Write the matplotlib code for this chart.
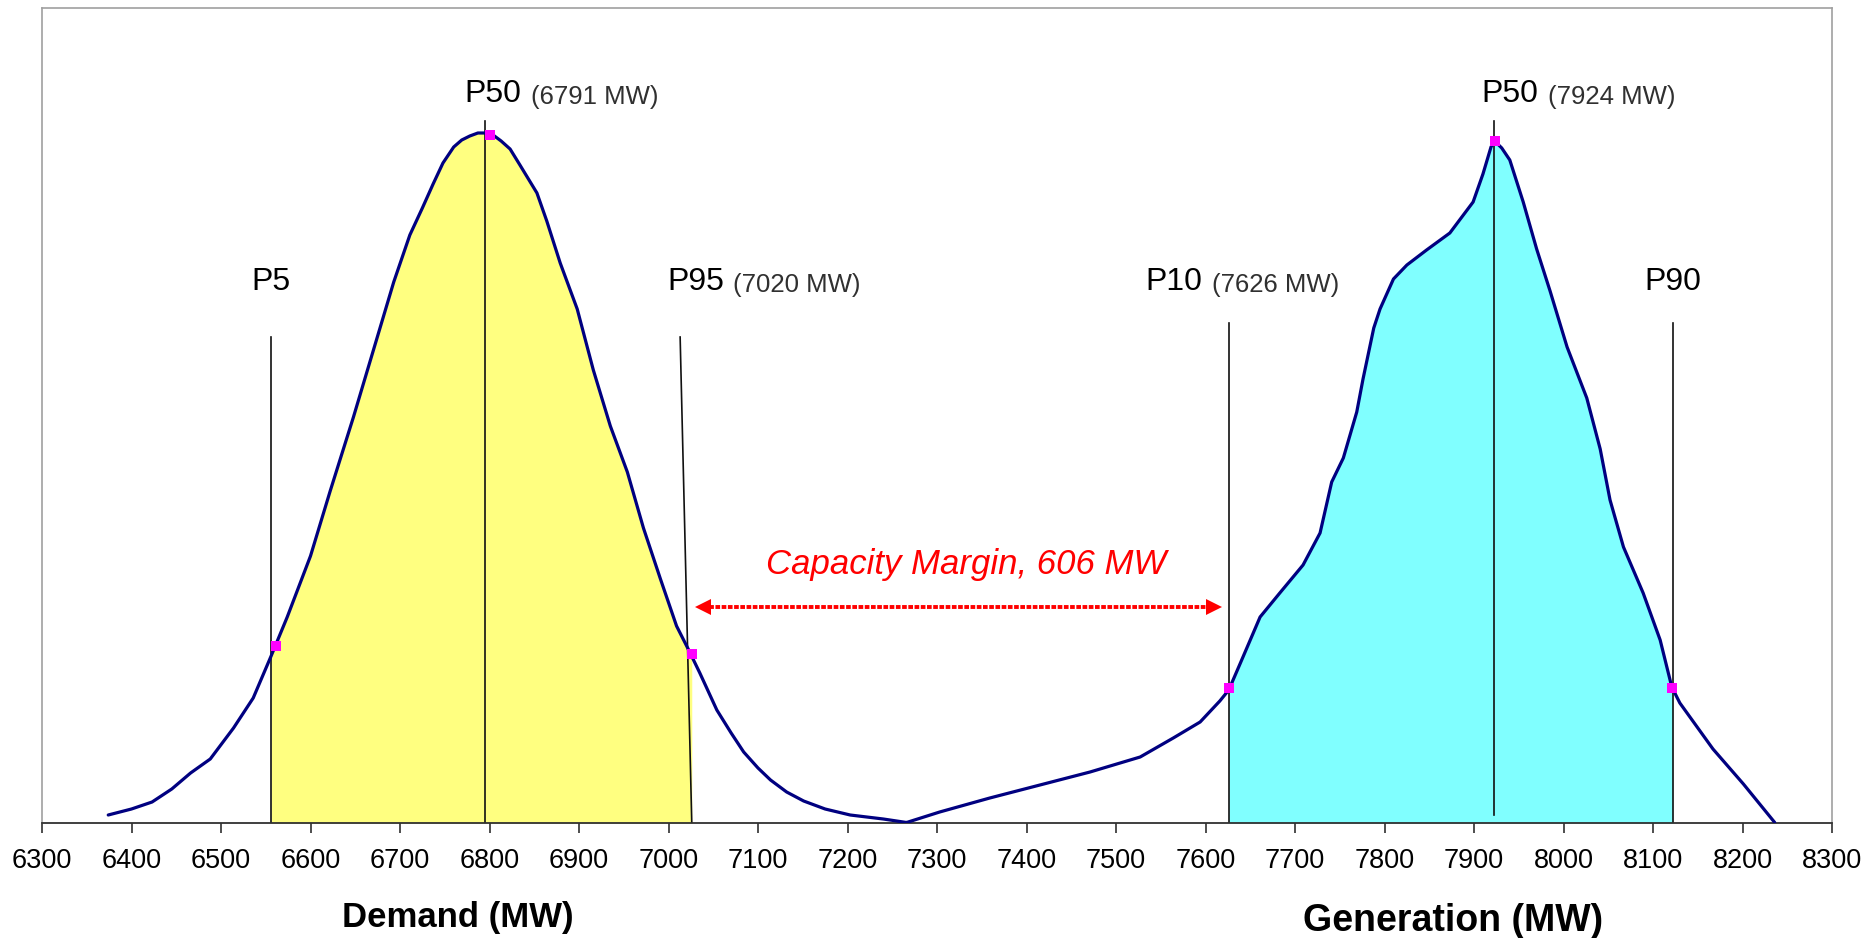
import numpy as np
import matplotlib
matplotlib.use("Agg")
import matplotlib.pyplot as plt

plt.rcParams["font.family"] = ["Liberation Sans", "DejaVu Sans"]

# Curva de demanda (MW, altura relativa de la densidad)
demanda_mw = [6374, 6400, 6423, 6445, 6466, 6488, 6514, 6536, 6556, 6574, 6600, 6622,
              6648, 6670, 6693, 6711, 6725, 6737, 6748, 6760, 6769, 6778, 6787, 6795,
              6804, 6813, 6823, 6834, 6853, 6864, 6879, 6898, 6916, 6935, 6954, 6972,
              6991, 7009, 7022, 7035, 7054, 7070, 7084, 7100, 7114, 7132, 7151, 7175,
              7203, 7240, 7266]
demanda_h = [8, 14, 21, 34, 50, 64, 95, 125, 167, 206, 267, 332,
             406, 472, 541, 588, 615, 639, 660, 676, 683, 687, 690, 690,
             688, 682, 674, 658, 630, 602, 560, 514, 453, 397, 351, 295,
             244, 197, 174, 150, 113, 90, 71, 55, 43, 31, 22, 14,
             8, 4, 0.5]

# Curva de generacion
generacion_mw = [7266, 7303, 7359, 7415, 7471, 7527, 7564, 7594, 7616, 7626, 7639, 7661,
                 7683, 7709, 7728, 7741, 7754, 7769, 7776, 7788, 7795, 7810, 7825, 7847,
                 7873, 7899, 7910, 7919, 7923, 7931, 7940, 7955, 7970, 7985, 8004, 8026,
                 8041, 8052, 8067, 8089, 8108, 8121, 8130, 8167, 8201, 8236]
generacion_h = [0.5, 11, 25, 38, 51, 66, 85, 101, 122, 133, 160, 206,
                230, 258, 290, 341, 365, 411, 444, 495, 514, 544, 558, 573,
                590, 621, 649, 676, 682, 675, 663, 621, 574, 532, 476, 425,
                374, 323, 276, 230, 183, 136, 120, 74, 39, 0.5]

# Percentiles
etiquetas = ["P5", "P50", "P95", "P10", "P50", "P90"]
valores = [None, "6791 MW", "7020 MW", "7626 MW", "7924 MW", None]
lineas_mw = [6556, 6795, 7026, 7626, 7922, 8122]
marcas_mw = [6562, 6800, 7026, 7626, 7923, 8121]
marcas_h = [177, 688, 169, 135, 682, 135]

margen_mw = 606
flecha_mw = [7039, 7609]

fig = plt.figure(figsize=(18.7, 9.38), dpi=100)
ax = fig.add_axes([42 / 1870, 1 - 823 / 938, 1790 / 1870, 815 / 938])

# Relleno entre percentiles
def rellenar(mw, h, lo, hi, color):
    mw = np.asarray(mw, dtype=float)
    h = np.asarray(h, dtype=float)
    xs = np.concatenate([[lo], mw[(mw > lo) & (mw < hi)], [hi]])
    ys = np.interp(xs, mw, h)
    ax.fill_between(xs, ys, 0, color=color, linewidth=0, zorder=1)

rellenar(demanda_mw, demanda_h, lineas_mw[0], lineas_mw[2], "#FFFF80")
rellenar(generacion_mw, generacion_h, lineas_mw[3], lineas_mw[5], "#80FFFF")

# Lineas verticales de percentiles
tops = [486, 702, 486, 500, 702, 500]
bases = [0, 0, 0, 0, 8, 0]
desvio_top = [0, 0, -13, 0, 0, 0]
for x, t, b, d in zip(lineas_mw, tops, bases, desvio_top):
    ax.plot([x + d, x], [t, b], color="#111111", lw=1.2, zorder=2)

# Curvas
ax.plot(demanda_mw, demanda_h, color="#000080", lw=2.3, zorder=3,
        solid_capstyle="round", solid_joinstyle="round")
ax.plot(generacion_mw, generacion_h, color="#000080", lw=2.3, zorder=3,
        solid_capstyle="round", solid_joinstyle="round")
ax.plot(marcas_mw, marcas_h, "s", color="#FF00FF", markersize=7.5, markeredgewidth=0, zorder=4)

# Etiquetas de percentiles
pos_x = [lineas_mw[0], 6771.7, 6998.2, 7532.3, 7907.8, lineas_mw[5]]
pos_y = [533, 721, 533, 533, 721, 533]
for et, val, x, y in zip(etiquetas, valores, pos_x, pos_y):
    if val is None:
        ax.text(x, y, et, fontsize=23, ha="center", va="baseline", color="black")
    else:
        t = ax.text(x, y, et, fontsize=23, ha="left", va="baseline", color="black")
        ax.annotate(f"({val})", xy=(1, 0), xycoords=t, xytext=(7, 0),
                    textcoords="offset points", fontsize=18.5, ha="left", va="bottom",
                    color="#303030")

# Margen de capacidad
ax.plot(flecha_mw, [216, 216], color="red", lw=2.8, linestyle=(0, (1.2, 0.4)), zorder=3)
ax.plot([flecha_mw[0]], [216], marker="<", color="red", markersize=11, markeredgewidth=0)
ax.plot([flecha_mw[1]], [216], marker=">", color="red", markersize=11, markeredgewidth=0)
ax.text(sum(flecha_mw) / 2 + 9, 249, f"Capacity Margin, {margen_mw} MW", color="red",
        fontsize=25, style="italic", ha="center", va="baseline")

# Ejes
ax.set_xlim(6300, 8300)
ax.set_ylim(0, 815)
ax.set_xticks(range(6300, 8301, 100))
ax.set_yticks([])
ax.tick_params(axis="x", direction="out", length=7, width=1.2, color="#303030",
               labelsize=19.5, pad=11)
for lado in ["left", "top", "right"]:
    ax.spines[lado].set_color("#a0a0a0")
    ax.spines[lado].set_linewidth(1.2)
ax.spines["bottom"].set_color("#303030")
ax.spines["bottom"].set_linewidth(1.3)

fig.text(458 / 1870, 1 - 926.7 / 938, "Demand (MW)", fontsize=25, fontweight="bold",
         ha="center", va="baseline")
fig.text(1453.5 / 1870, 1 - 931 / 938, "Generation (MW)", fontsize=27, fontweight="bold",
         ha="center", va="baseline")

fig.savefig("out.png", dpi=100)
